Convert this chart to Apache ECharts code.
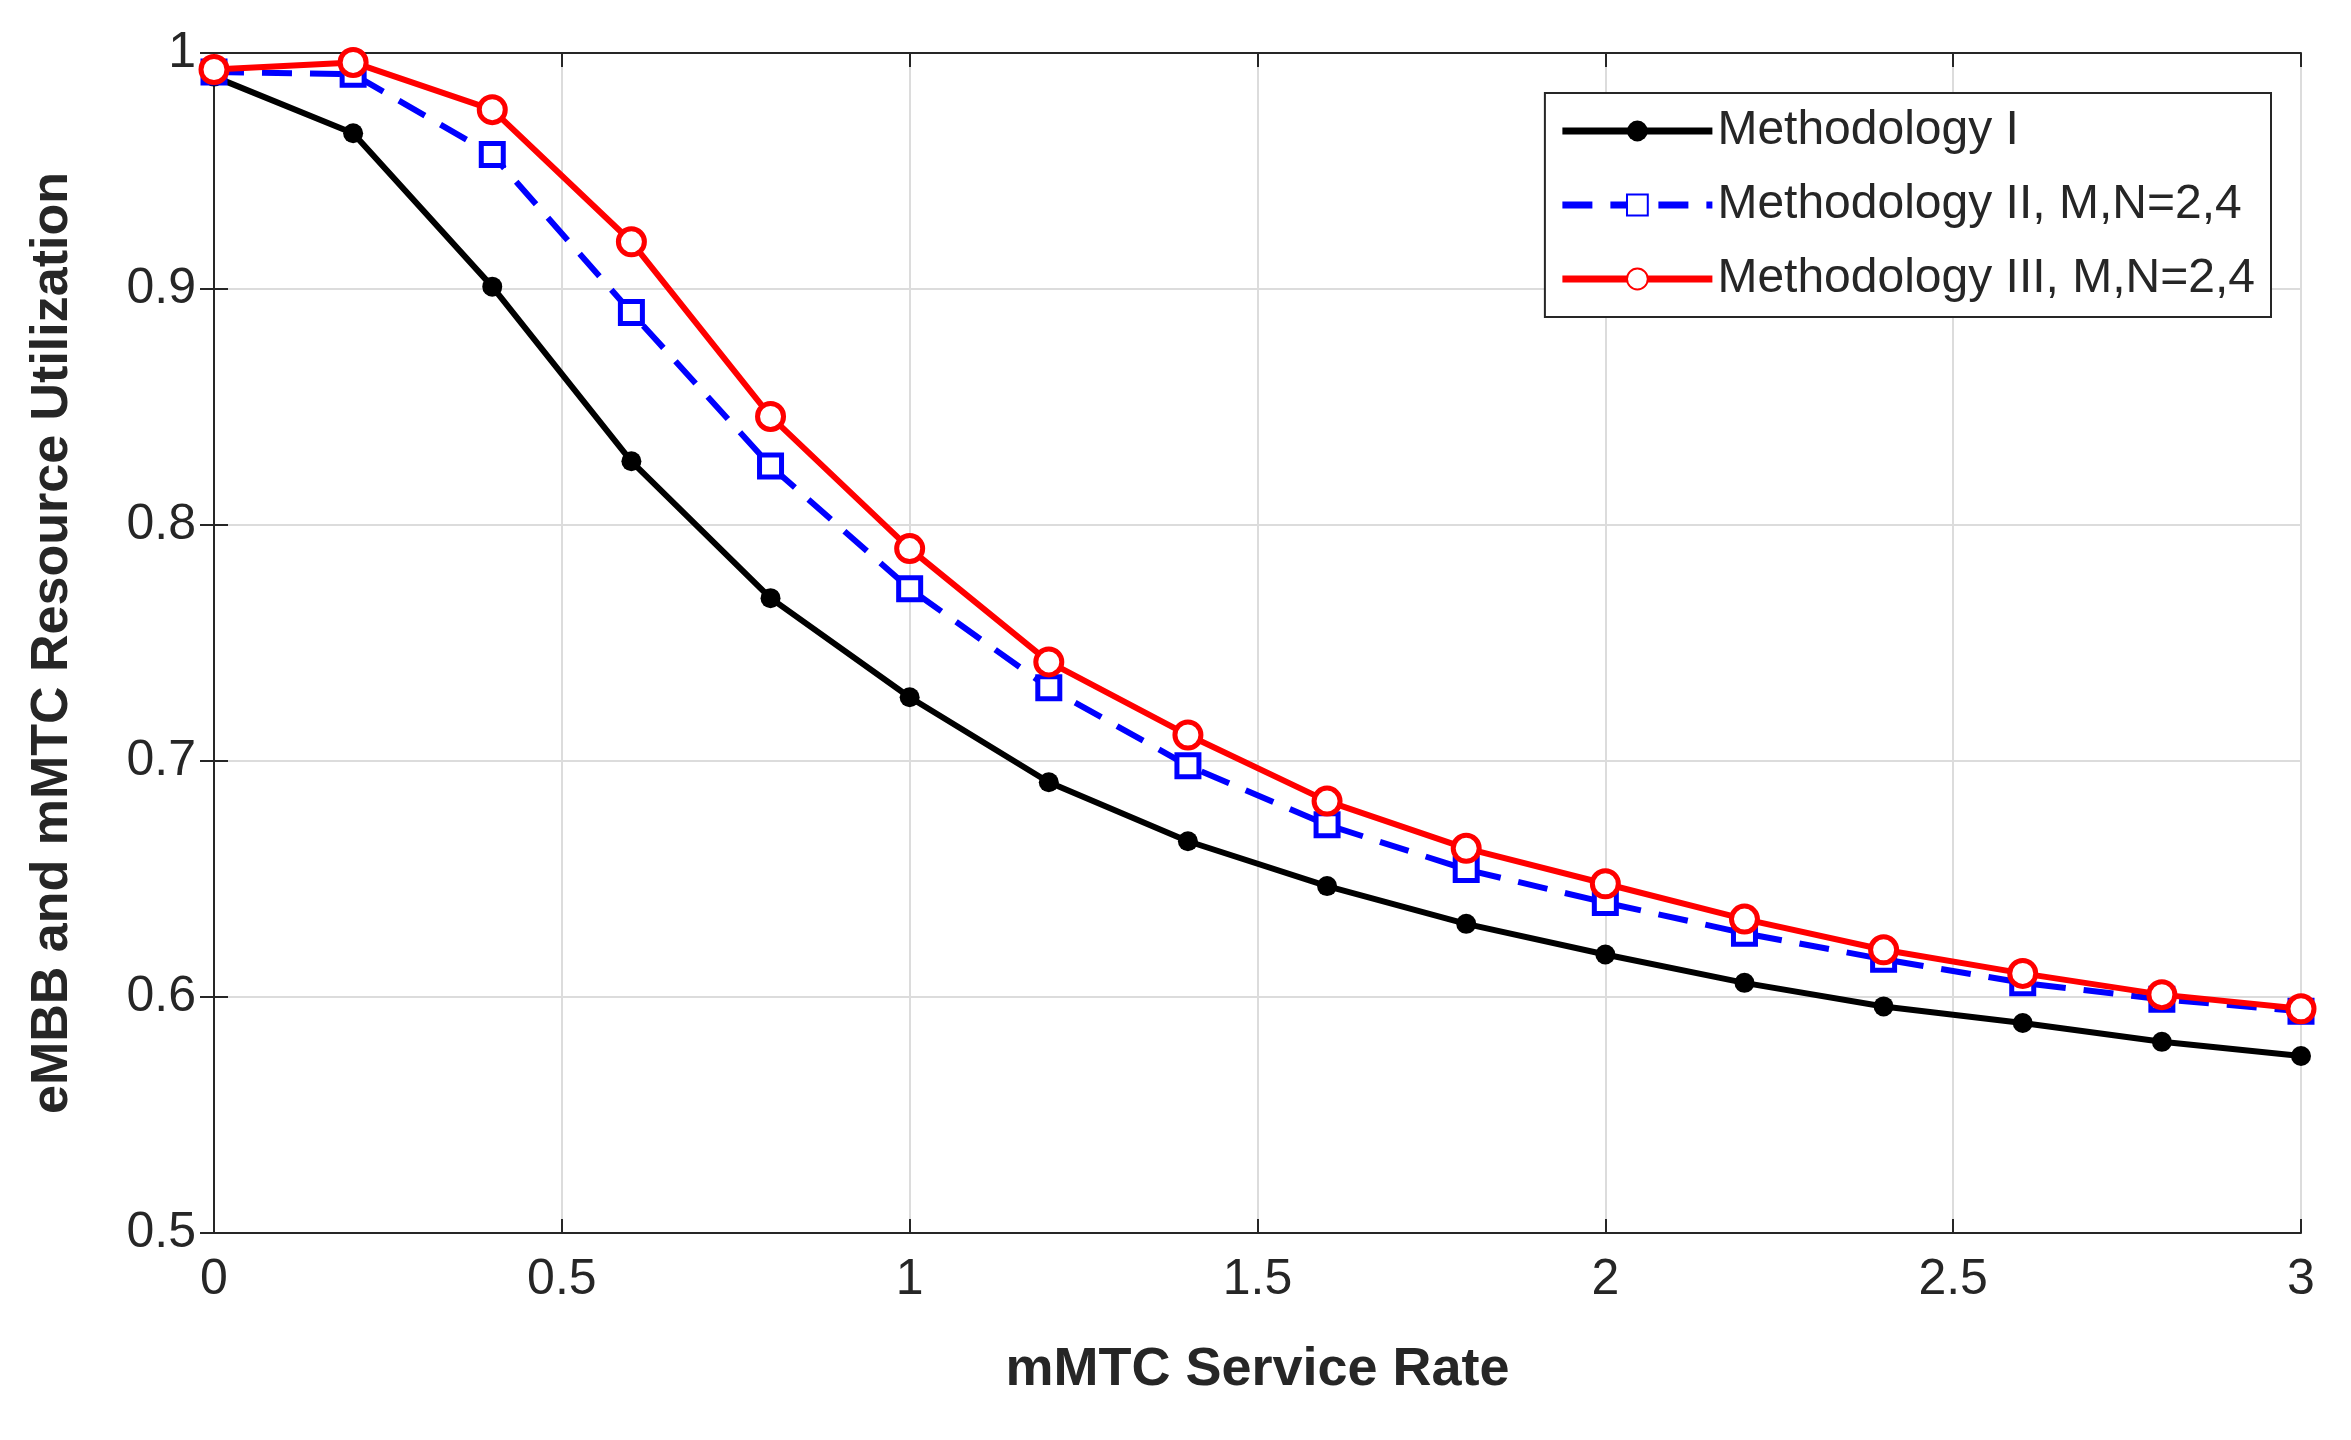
<!DOCTYPE html>
<html><head><meta charset="utf-8">
<script src="https://cdn.jsdelivr.net/npm/echarts@6/dist/echarts.min.js"></script>
<style>html,body{margin:0;padding:0;background:#fff}#c{width:2351px;height:1440px}</style>
</head><body><div id="c"></div>
<script>
const xs = [0,0.2,0.4,0.6,0.8,1,1.2,1.4,1.6,1.8,2,2.2,2.4,2.6,2.8,3];
const m1 = [0.99,0.966,0.901,0.827,0.769,0.727,0.691,0.666,0.647,0.631,0.618,0.606,0.596,0.589,0.581,0.575];
const m2 = [0.992,0.991,0.957,0.890,0.825,0.773,0.731,0.698,0.673,0.654,0.640,0.627,0.616,0.606,0.599,0.594];
const m3 = [0.993,0.996,0.976,0.920,0.846,0.790,0.742,0.711,0.683,0.663,0.648,0.633,0.620,0.610,0.601,0.595];
const names = ['Methodology I','Methodology II, M,N=2,4','Methodology III, M,N=2,4'];
const F = 'Liberation Sans, Arial, sans-serif';
const pair = a => xs.map((x,i)=>[x,a[i]]);
const axLine = {show:true,lineStyle:{color:'#262626',width:2}};
const chart = echarts.init(document.getElementById('c'));
chart.setOption({
  animation:false,
  grid:{left:214,right:50,top:53,bottom:207},
  legend:{right:80,top:93,orient:'vertical',itemWidth:150,itemHeight:26,itemGap:26,
    backgroundColor:'#fff',borderColor:'#262626',borderWidth:2,padding:[14,16,14,14],
    lineStyle:{width:7},
    textStyle:{fontFamily:F,fontSize:48,color:'#262626'},data:names},
  xAxis:[{type:'value',min:0,max:3,interval:0.5,
    name:'mMTC Service Rate',nameLocation:'middle',nameGap:110,
    nameTextStyle:{fontFamily:F,fontSize:54,fontWeight:'bold',color:'#262626'},
    axisLine:axLine,axisTick:{inside:true,length:14,lineStyle:{color:'#262626',width:2}},
    axisLabel:{fontFamily:F,fontSize:50,color:'#262626',margin:22},
    splitLine:{show:true,lineStyle:{color:'#dcdcdc',width:2}}},
    {type:'value',position:'top',min:0,max:3,interval:0.5,axisLine:axLine,
    axisTick:{inside:true,length:14,lineStyle:{color:'#262626',width:2}},axisLabel:{show:false},splitLine:{show:false}}],
  yAxis:[{type:'value',min:0.5,max:1,interval:0.1,
    name:'eMBB and mMTC Resource Utilization',nameLocation:'middle',nameGap:135,
    nameTextStyle:{fontFamily:F,fontSize:52,fontWeight:'bold',color:'#262626'},
    axisLine:axLine,axisTick:{inside:true,length:14,lineStyle:{color:'#262626',width:2}},
    axisLabel:{fontFamily:F,fontSize:50,color:'#262626',margin:18,formatter:v=>String(+v.toFixed(1))},
    splitLine:{show:true,lineStyle:{color:'#dcdcdc',width:2}}},
    {type:'value',position:'right',min:0.5,max:1,interval:0.1,axisLine:axLine,
    axisTick:{inside:true,length:14,lineStyle:{color:'#262626',width:2}},axisLabel:{show:false},splitLine:{show:false}}],
  series:[
    {name:names[0],type:'line',data:pair(m1),symbol:'circle',symbolSize:20,
      lineStyle:{color:'#000',width:6},itemStyle:{color:'#000'}},
    {name:names[1],type:'line',data:pair(m2),symbol:'rect',symbolSize:22,
      lineStyle:{color:'#0000ff',width:6,type:[30,18]},itemStyle:{color:'#fff',borderColor:'#0000ff',borderWidth:5}},
    {name:names[2],type:'line',data:pair(m3),symbol:'circle',symbolSize:26,
      lineStyle:{color:'#ff0000',width:6},itemStyle:{color:'#fff',borderColor:'#ff0000',borderWidth:5}}
  ]
});
</script></body></html>
